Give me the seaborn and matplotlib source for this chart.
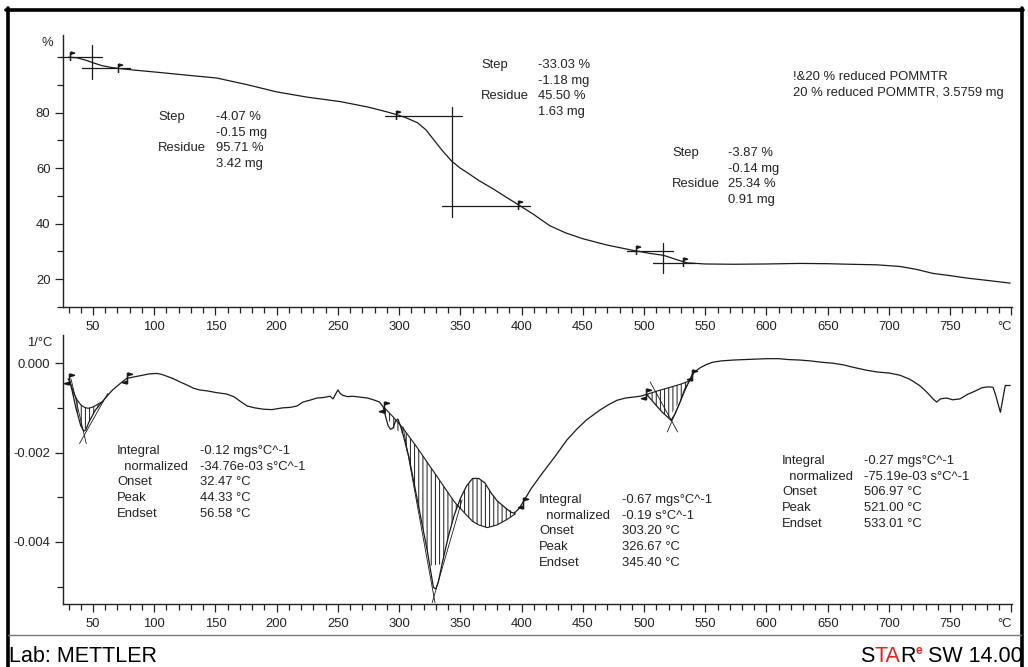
import numpy as np
import matplotlib
matplotlib.use("Agg")
import matplotlib.pyplot as plt
from matplotlib.path import Path
from matplotlib.lines import Line2D
import seaborn as sns

# ---------------- data ----------------
tga_x = [30, 37, 45, 50, 57, 65, 72, 85, 102, 125, 151, 175, 200, 225, 252, 275, 290, 298, 305, 315,
         322, 328, 335, 343, 350, 355, 365, 377, 388, 399, 410, 423, 436, 450, 470, 491, 505, 516, 525, 535,
         550, 573, 600, 627, 650, 668, 690, 709, 722, 736, 750, 764, 780, 799]
tga_y = [100, 99.8, 98.8, 98.0, 97.0, 96.3, 95.9, 95.3, 94.6, 93.6, 92.5, 90.2, 87.5, 85.6, 84.0, 82.0, 80.3, 79.3, 78.3, 76.4,
         73.8, 70.4, 66.5, 62.5, 60.0, 58.6, 55.6, 52.5, 49.4, 46.4, 43.3, 39.3, 36.7, 34.6, 32.3, 30.4, 29.3, 28.6, 27.3, 25.9,
         25.5, 25.4, 25.5, 25.7, 25.6, 25.4, 25.2, 24.6, 23.6, 22.1, 21.3, 20.4, 19.6, 18.6]

dtg_x = [29.6, 31, 33, 36, 40, 42.5, 44, 47, 52, 57, 62, 66, 72, 77.6, 85, 91, 96, 102, 106, 110,
         115, 121, 126, 132, 137, 143, 151, 159, 165, 170, 176, 182, 189, 196, 205, 211, 216.6, 221.5, 227, 233,
         238, 243.6, 246, 248, 250, 252, 254, 258, 262, 268, 274, 279, 284, 287, 289, 291, 293, 295, 297, 299,
         301, 303, 308, 313, 318, 323, 326, 328, 330, 332, 335, 340, 345, 350, 355, 360, 365, 370, 375, 380,
         386, 391, 394, 398, 401, 408, 417, 427, 437, 445, 453, 464, 471, 478, 485, 491, 497, 502, 506, 510,
         515, 519, 522, 525, 529, 533, 537, 541, 546, 551, 556, 563, 573, 582, 591, 600, 610, 618, 627, 636,
         645, 654, 663, 672, 682, 691, 700, 709, 717, 725, 731, 736, 739, 742, 747, 752, 758, 764, 770, 776,
         781, 785, 787, 789.5, 791, 793, 795, 799]
dtg_y = [-0.00035, -0.0004, -0.00062, -0.001, -0.0014, -0.00152, -0.0015, -0.0013, -0.00105, -0.00088,
         -0.00072, -0.0006, -0.00046, -0.00034, -0.0003, -0.00027, -0.00024, -0.00023, -0.00025, -0.00029,
         -0.00034, -0.00042, -0.00048, -0.00056, -0.0006, -0.00062, -0.00066, -0.00069, -0.00075, -0.00085,
         -0.00096, -0.001, -0.00103, -0.00104, -0.001, -0.00099, -0.00096, -0.00087, -0.00083, -0.00078,
         -0.00077, -0.00074, -0.0008, -0.0007, -0.0006, -0.00068, -0.00072, -0.00075, -0.00074, -0.00076,
         -0.00078, -0.00082, -0.00087, -0.00098, -0.0012, -0.0014, -0.00148, -0.00145, -0.0013, -0.00125,
         -0.0014, -0.00158, -0.0021, -0.0028, -0.0035, -0.0042, -0.0047, -0.00502, -0.00505, -0.0049,
         -0.0045, -0.0039, -0.0034, -0.00303, -0.00275, -0.00258, -0.00258, -0.00268, -0.0029, -0.00308,
         -0.00322, -0.00333, -0.00336, -0.00325, -0.00312, -0.0028, -0.00246, -0.0021, -0.00172, -0.00148,
         -0.00127, -0.00105, -0.00093, -0.00083, -0.00078, -0.00076, -0.00074, -0.0007, -0.00082, -0.00095,
         -0.0011, -0.0012, -0.00128, -0.00115, -0.0009, -0.0006, -0.0004, -0.0002, -0.0001, -0.00003,
         0.00002, 0.00005, 0.00007, 0.00008, 0.00009, 0.0001, 0.0001, 0.00008, 0.00007, 0.00005,
         0.00002, 0.0, -0.00004, -0.0001, -0.00016, -0.0002, -0.00022, -0.00027, -0.00036, -0.0005,
         -0.00065, -0.0008, -0.00087, -0.0008, -0.00078, -0.00082, -0.0008, -0.0007, -0.00063, -0.00055,
         -0.00053, -0.00054, -0.0007, -0.00095, -0.0011, -0.0008, -0.0005, -0.0005]

# peak baselines (hatched areas)
base1_x = [31, 34, 37, 40, 43, 46, 49, 52, 55, 58]
base1_y = [-0.0004, -0.00065, -0.00082, -0.00093, -0.00099, -0.00101, -0.00099, -0.00095, -0.0009, -0.00086]
base2_x = [288, 295, 303, 315, 325, 335, 345, 350, 355, 360, 365, 372, 380, 388, 395]
base2_y = [-0.001, -0.0012, -0.00145, -0.0019, -0.0023, -0.0027, -0.0031, -0.00325, -0.0034, -0.00354,
           -0.00362, -0.00368, -0.00362, -0.0035, -0.00337]
base3_x = [502, 510, 520, 530, 537]
base3_y = [-0.0007, -0.00063, -0.00055, -0.00047, -0.0004]

# tangent lines of the DTG evaluations
tangents = [
    ([32, 44.5], [-0.00035, -0.0018]),
    ([39, 62], [-0.0018, -0.00068]),
    ([303.2, 329.3], [-0.00143, -0.00536]),
    ([327, 351.4], [-0.00536, -0.00306]),
    ([505, 527.5], [-0.00042, -0.00154]),
    ([519, 540], [-0.00154, -0.0002]),
]
dtg_flag_x = [30, 77.6, 288, 401, 502, 539]
dtg_flag_y = [-0.00035, -0.00034, -0.00098, -0.00312, -0.0007, -0.00027]

# TGA step evaluation lines
step_h_lines = [(23.6, 57.3, 100.1), (41, 80, 96.2), (288.5, 351.4, 78.9), (335, 407, 46.3),
                (486, 524, 30.0), (507, 542, 26.0)]
step_v_lines = [(49.2, 92.2, 104.4), (343.2, 42.3, 82.2), (515.6, 22.1, 32.9)]
tga_flag_x = [31.2, 70.4, 297.5, 397, 493.5, 532]
tga_flag_y = [100.3, 96.0, 79.2, 46.8, 30.4, 26.3]

x_major = list(range(50, 801, 50))
x_labels = [str(v) for v in range(50, 751, 50)] + ["°C"]

step_texts = [
    [("Step", "-4.07 %"), ("", "-0.15 mg"), ("Residue", "95.71 %"), ("", "3.42 mg")],
    [("Step", "-33.03 %"), ("", "-1.18 mg"), ("Residue", "45.50 %"), ("", "1.63 mg")],
    [("Step", "-3.87 %"), ("", "-0.14 mg"), ("Residue", "25.34 %"), ("", "0.91 mg")],
]
peak_texts = [
    [("Integral", "-0.12 mgs°C^-1"), ("  normalized", "-34.76e-03 s°C^-1"), ("Onset", "32.47 °C"),
     ("Peak", "44.33 °C"), ("Endset", "56.58 °C")],
    [("Integral", "-0.67 mgs°C^-1"), ("  normalized", "-0.19 s°C^-1"), ("Onset", "303.20 °C"),
     ("Peak", "326.67 °C"), ("Endset", "345.40 °C")],
    [("Integral", "-0.27 mgs°C^-1"), ("  normalized", "-75.19e-03 s°C^-1"), ("Onset", "506.97 °C"),
     ("Peak", "521.00 °C"), ("Endset", "533.01 °C")],
]
title_lines = ["!&20 % reduced POMMTR", "20 % reduced POMMTR, 3.5759 mg"]

# ---------------- styling ----------------
sns.set_theme(style="white")
plt.rcParams["font.family"] = ["Liberation Sans", "DejaVu Sans"]
plt.rcParams["axes.unicode_minus"] = False
plt.rcParams["hatch.linewidth"] = 0.7

W, H = 1028, 667
fig = plt.figure(figsize=(W / 100, H / 100), dpi=100)
fig.patch.set_facecolor("white")


def rect(l, t, r, b):
    return [l / W, 1 - b / H, (r - l) / W, (b - t) / H]


ax1 = fig.add_axes(rect(63, 35, 1012, 307))
ax2 = fig.add_axes(rect(63, 335, 1012, 604))

LC = "#1a1a1a"
FS = 9.4

# flag marker
flag = Path([(0, -1), (0, 1), (0, 1), (0.9, 0.75), (0, 0.5)],
            [Path.MOVETO, Path.LINETO, Path.MOVETO, Path.LINETO, Path.LINETO])
flag2 = Path([(0, -1), (0, 1), (0, 1), (0.9, 0.75), (0, 0.5), (0, -1), (-0.9, -0.75), (0, -0.5)],
             [Path.MOVETO, Path.LINETO, Path.MOVETO, Path.LINETO, Path.LINETO,
              Path.MOVETO, Path.LINETO, Path.LINETO])

# ---- top: TGA ----
sns.lineplot(x=tga_x, y=tga_y, ax=ax1, color=LC, lw=0.9, estimator=None, sort=False)
for x0, x1, y in step_h_lines:
    ax1.plot([x0, x1], [y, y], color=LC, lw=0.9, clip_on=False)
for x, y0, y1 in step_v_lines:
    ax1.plot([x, x], [y0, y1], color=LC, lw=0.9, clip_on=False)
ax1.plot(tga_flag_x, tga_flag_y, ls="none", marker=flag, ms=6.5, mew=1.1, color=LC,
         markerfacecolor=LC)
ax1.set_xlim(25.5, 800.5)
ax1.set_ylim(10.3, 108)
ax1.set_yticks([20, 40, 60, 80])
ax1.set_yticks([10, 30, 50, 70, 90, 100], minor=True)

# ---- bottom: DTG ----
sns.lineplot(x=dtg_x, y=dtg_y, ax=ax2, color=LC, lw=0.9, estimator=None, sort=False)
for bx, by in [(base1_x, base1_y), (base2_x, base2_y), (base3_x, base3_y)]:
    bx = np.array(bx)
    cy = np.interp(bx, dtg_x, dtg_y)
    ax2.plot(bx, by, color=LC, lw=0.8)
    ax2.fill_between(bx, by, cy, facecolor="none", edgecolor=LC, hatch="||||", lw=0)
for tx, ty in tangents:
    ax2.plot(tx, ty, color=LC, lw=0.6)
ax2.plot(dtg_flag_x, dtg_flag_y, ls="none", marker=flag2, ms=8, mew=1.1, color=LC)
ax2.set_xlim(25.5, 800.5)
ax2.set_ylim(-0.00539, 0.00063)
ax2.set_yticks([-0.004, -0.002, 0.0])
ax2.set_yticklabels(["-0.004", "-0.002", "0.000"])
ax2.set_yticks([-0.005, -0.003, -0.001], minor=True)

for ax in (ax1, ax2):
    ax.set_facecolor("white")
    for s in ("top", "right"):
        ax.spines[s].set_visible(False)
    for s in ("left", "bottom"):
        ax.spines[s].set_color("#222222")
        ax.spines[s].set_linewidth(1.0)
    ax.set_xticks(x_major)
    ax.set_xticklabels(x_labels)
    ax.set_xticks([v for v in range(30, 801, 10) if v % 50], minor=True)
    ax.tick_params(which="major", direction="out", length=6, width=0.9, color="#222222",
                   labelsize=FS, labelcolor="#222222", pad=4, left=True, bottom=True)
    ax.tick_params(which="minor", direction="out", length=4, width=0.9, color="#222222",
                   left=True, bottom=True)
    ax.tick_params(axis="y", pad=3)
    ax.set_xlabel("")
    ax.set_ylabel("")
    ax.grid(False)
    lab = ax.get_xticklabels()[-1]
    lab.set_horizontalalignment("right")

# axis unit labels
fig.text(47 / W, 1 - 43 / H, "%", fontsize=FS, color="#222222", ha="center", va="center")
fig.text(40 / W, 1 - 343 / H, "1/°C", fontsize=FS, color="#222222", ha="center", va="center")


def table(rows, xl, xr, y0, dy=15.7):
    for i, (a, b) in enumerate(rows):
        y = 1 - (y0 + i * dy) / H
        if a:
            fig.text(xl / W, y, a, fontsize=FS, color="#222222", ha="left", va="center")
        fig.text(xr / W, y, b, fontsize=FS, color="#222222", ha="left", va="center")


table(step_texts[0], 158, 216, 117)
table(step_texts[1], 481, 538, 65)
table(step_texts[2], 672, 728, 153)
table(peak_texts[0], 117, 200, 451)
table(peak_texts[1], 539, 622, 500)
table(peak_texts[2], 782, 864, 461)
for i, t in enumerate(title_lines):
    fig.text(793 / W, 1 - (77 + i * 16) / H, t, fontsize=FS, color="#222222", ha="left", va="center")

# frame
fig.add_artist(Line2D([7.5 / W, 7.5 / W], [0, 1 - 8 / H], color="black", lw=2.6))
fig.add_artist(Line2D([1021.5 / W, 1021.5 / W], [0, 1 - 8 / H], color="black", lw=2.6))
fig.add_artist(Line2D([6.2 / W, 1022.8 / W], [1 - 9.5 / H, 1 - 9.5 / H], color="black", lw=2.6))
fig.add_artist(Line2D([8 / W, 1021 / W], [1 - 635 / H, 1 - 635 / H], color="#777777", lw=1.0))

# footer
fig.text(9 / W, 1 - 662 / H, "Lab: METTLER", fontsize=15.5, color="black", ha="left", va="baseline")
fig.canvas.draw()
r = fig.canvas.get_renderer()
x = 860 / W
yb = 1 - 662 / H
for s, c, fsz, dy in [("S", "black", 15.5, 0), ("TA", "#e52421", 15.5, 0), ("R", "black", 15.5, 0),
                      ("e", "#e52421", 8.5, 8), (" SW 14.00", "black", 15.5, 0)]:
    t = fig.text(x, yb + dy / H, s, fontsize=fsz, color=c, ha="left", va="baseline",
                 fontweight="bold" if s == "e" else "normal")
    bb = t.get_window_extent(renderer=r)
    x += bb.width / W

fig.savefig("out.png", dpi=100, facecolor="white")
